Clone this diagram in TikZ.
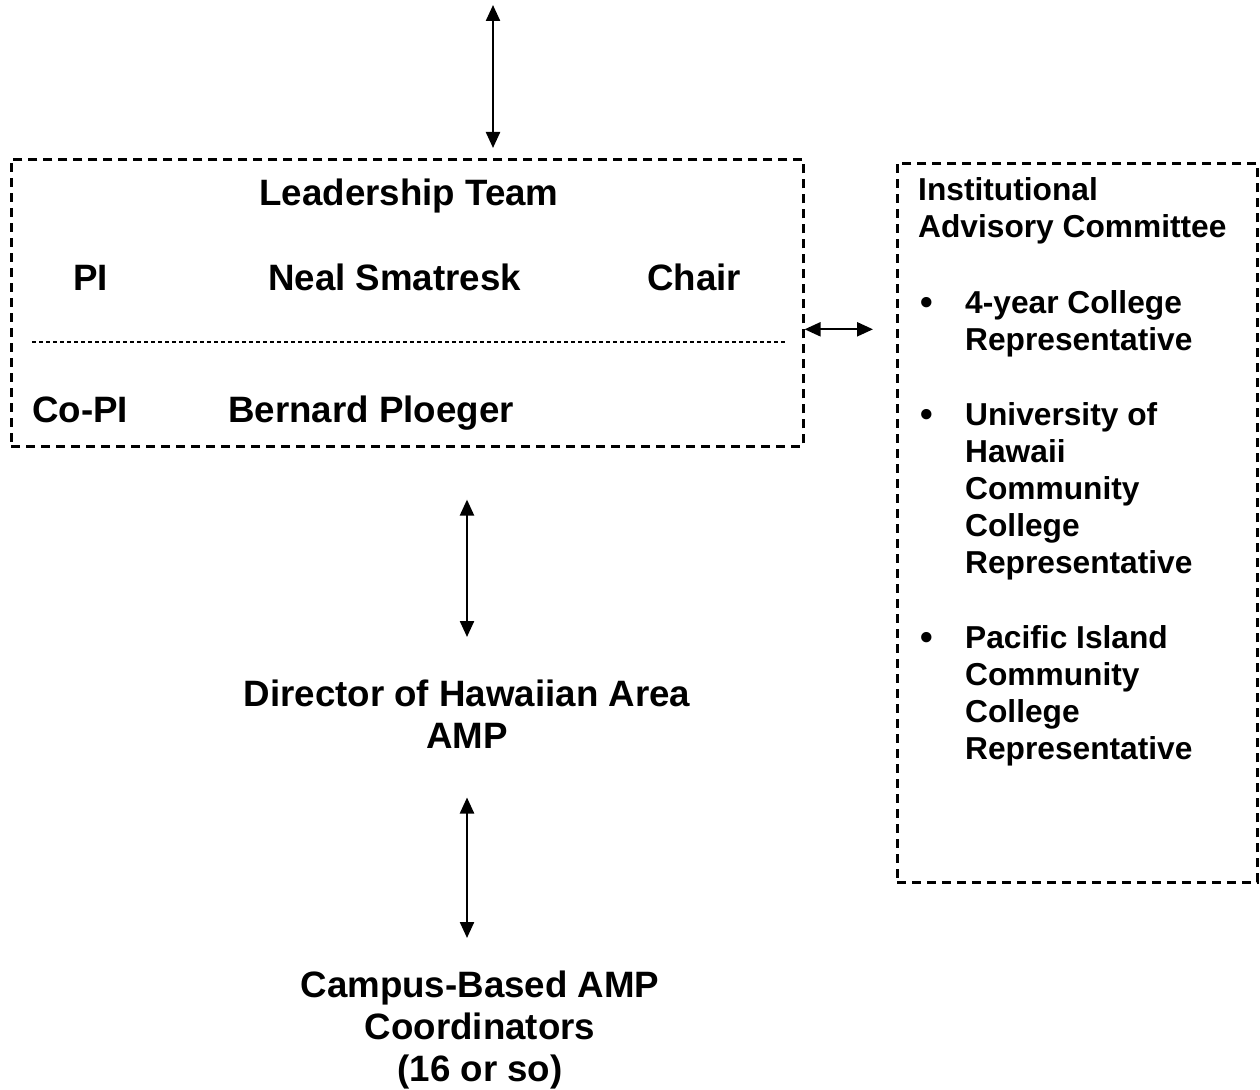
\documentclass[tikz,border=0pt]{standalone}
\usepackage{fontspec}
\setmainfont{Liberation Sans}
\usetikzlibrary{arrows.meta}
\begin{document}
\begin{tikzpicture}[x=1pt,y=-1pt,
  dashbox/.style={draw, line width=2.6pt, dash pattern=on 9pt off 6pt, inner sep=0pt, anchor=north west},
  big/.style={font=\fontsize{36.7}{42}\selectfont\bfseries, inner sep=0pt},
  bigc/.style={big, align=center, anchor=north},
  small/.style={font=\fontsize{31.7}{37}\selectfont\bfseries, inner sep=0pt, align=left, anchor=north west},
  bulletmark/.style={font=\fontsize{36}{37}\selectfont\bfseries, inner sep=0pt, anchor=base},
  biarrow/.style={line width=2.3pt, {Triangle[length=16pt,width=14pt]}-{Triangle[length=16pt,width=14pt]}},
  sepline/.style={line width=1.4pt, dash pattern=on 4pt off 3pt},
]
\useasboundingbox (0,0) rectangle (1260,1089);

% Leadership team box
\node[dashbox, minimum width=792pt, minimum height=287pt] (lead) at (10,158) {};
\node[big, anchor=base] (lt) at (409,205) {Leadership Team};
\node[big, anchor=base west] (pi) at (73,290) {PI};
\node[big, anchor=base west] (neal) at (268,290) {Neal Smatresk};
\node[big, anchor=base west] (chair) at (647,290) {Chair};
\coordinate (sepL) at (32,342);
\coordinate (sepR) at (785,342);
\draw[sepline] (sepL) -- (sepR);
\node[big, anchor=base west] (copi) at (32,422) {Co-PI};
\node[big, anchor=base west] (bern) at (228,422) {Bernard Ploeger};

% Institutional advisory committee box
\node[dashbox, minimum width=360pt, minimum height=719pt] (iac) at (896,162) {};
\node[small] (iact) at (918,177) {Institutional\\Advisory Committee};
\node[bulletmark] (b1) at (927,314) {•};
\node[small] (i1) at (965,290) {4-year College\\Representative};
\node[bulletmark] (b2) at (927,426) {•};
\node[small] (i2) at (965,402) {University of\\Hawaii\\Community\\College\\Representative};
\node[bulletmark] (b3) at (927,649) {•};
\node[small] (i3) at (965,625) {Pacific Island\\Community\\College\\Representative};

% Director and coordinators
\node[bigc] (dir) at (467,679.5) {Director of Hawaiian Area\\AMP};
\node[bigc] (camp) at (480,970.5) {Campus-Based AMP\\Coordinators\\(16 or so)};

% Connectors
\coordinate (topend) at (493,5);
\draw[biarrow, shorten >=10pt] (topend) -- (topend |- lead.north);
\draw[biarrow, shorten >=23pt] ([yshift=-26.5pt]lead.east) -- ([yshift=-26.5pt]lead.east -| iac.west);
\draw[biarrow, shorten <=52pt, shorten >=42.5pt] (dir.north |- lead.south) -- (dir.north);
\draw[biarrow, shorten <=49pt, shorten >=32.5pt] (dir.south) -- (dir.south |- camp.north);
\end{tikzpicture}
\end{document}
